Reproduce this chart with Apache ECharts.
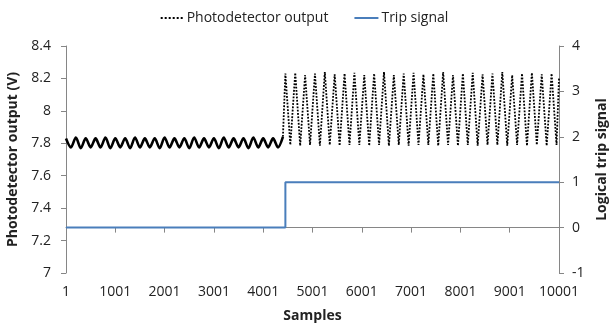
<!DOCTYPE html>
<html>
<head>
<meta charset="utf-8">
<script src="https://cdn.jsdelivr.net/npm/echarts@6/dist/echarts.min.js"></script>
<style>
  html, body { margin: 0; padding: 0; background: #fff; }
  #chart { width: 609px; height: 327px; }
</style>
</head>
<body>
<div id="chart"></div>
<script>
// turning points of the photodetector signal, one every 100 samples
const sampleStep = 100;

// small ripple before the trip (samples 1 .. 4401)
const smallWaveStart = 1;
const smallWave = [
  7.83, 7.775, 7.835, 7.77, 7.83, 7.775, 7.83, 7.775, 7.835, 7.77,
  7.83, 7.775, 7.83, 7.77, 7.835, 7.775, 7.83, 7.775, 7.83, 7.77,
  7.835, 7.775, 7.83, 7.775, 7.83, 7.77, 7.835, 7.775, 7.83, 7.775,
  7.83, 7.77, 7.835, 7.775, 7.83, 7.775, 7.83, 7.77, 7.835, 7.775,
  7.83, 7.775, 7.83, 7.775, 7.84
];

// large swing after the trip (peak at 4451, then trough/peak every 100)
const largeWaveStart = 4451;
const largePeaks = [
  8.23, 8.235, 8.22, 8.23, 8.24, 8.225, 8.23, 8.235, 8.22, 8.23,
  8.24, 8.22, 8.23, 8.235, 8.225, 8.23, 8.24, 8.22, 8.23, 8.235,
  8.225, 8.23, 8.24, 8.22, 8.23, 8.235, 8.225, 8.23
];
const largeTroughs = [
  7.79, 7.785, 7.79, 7.785, 7.79, 7.785, 7.79, 7.79, 7.785, 7.79,
  7.785, 7.79, 7.785, 7.79, 7.79, 7.785, 7.79, 7.785, 7.79, 7.785,
  7.79, 7.79, 7.785, 7.79, 7.785, 7.79, 7.785, 7.79
];
const lastSample = 10001;
const lastValue = 8.2;

// logical trip signal
const tripSamples = [1, 4451, 4451, 10001];
const tripValues = [0, 0, 1, 1];

const smallData = smallWave.map((v, i) => [smallWaveStart + i * sampleStep, v]);
const largeData = [smallData[smallData.length - 1]];
largePeaks.forEach((p, i) => {
  largeData.push([largeWaveStart + 2 * i * sampleStep, p]);
  largeData.push([largeWaveStart + (2 * i + 1) * sampleStep, largeTroughs[i]]);
});
largeData.push([lastSample, lastValue]);
const tripData = tripSamples.map((s, i) => [s, tripValues[i]]);

const FONT = "'Open Sans', sans-serif";
const axisGray = "#868686";
const textColor = "#222";
const tripBlue = "#4a7ebb";

// six little dots for the legend swatch
const dotsIcon = "path://M0,0h1v1h-1z M2,0h1v1h-1z M4,0h1v1h-1z M6,0h1v1h-1z M8,0h1v1h-1z M10,0h1v1h-1z";

const chart = echarts.init(document.getElementById("chart"), null, { renderer: "canvas" });

chart.setOption({
  animation: false,
  backgroundColor: "#fff",
  textStyle: { fontFamily: FONT },
  legend: {
    top: 6,
    left: "center",
    itemWidth: 24,
    itemHeight: 2,
    itemGap: 26,
    textStyle: { fontFamily: FONT, fontSize: 14, color: textColor, padding: [0, 0, 0, -2] },
    data: [
      { name: "Photodetector output", icon: dotsIcon, itemStyle: { color: "#000" } },
      { name: "Trip signal", icon: "rect", itemStyle: { color: tripBlue } }
    ]
  },
  grid: { left: 66, right: 50, top: 46, bottom: 54, outerBoundsMode: "none" },
  xAxis: {
    type: "value",
    min: 1,
    max: 10001,
    interval: 1000,
    name: "Samples",
    nameLocation: "middle",
    nameGap: 36,
    nameTextStyle: { fontFamily: FONT, fontSize: 14, fontWeight: "bold", color: textColor },
    axisLine: { lineStyle: { color: axisGray } },
    axisTick: { length: 5, lineStyle: { color: axisGray } },
    axisLabel: { fontFamily: FONT, fontSize: 14, color: textColor, margin: 12,
      formatter: (v) => String(v) },
    splitLine: { show: false }
  },
  yAxis: [
    {
      type: "value",
      min: 7,
      max: 8.4,
      interval: 0.2,
      name: "Photodetector output (V)",
      nameLocation: "middle",
      nameGap: 44,
      nameTextStyle: { fontFamily: FONT, fontSize: 14, fontWeight: "bold", color: textColor },
      axisLine: { show: true, lineStyle: { color: axisGray } },
      axisTick: { show: true, length: 5, lineStyle: { color: axisGray } },
      axisLabel: { fontFamily: FONT, fontSize: 14, color: textColor, margin: 15,
        formatter: (v) => String(+v.toFixed(1)) },
      splitLine: { show: false }
    },
    {
      type: "value",
      min: -1,
      max: 4,
      interval: 1,
      name: "Logical trip signal",
      nameLocation: "middle",
      nameGap: 34,
      nameTextStyle: { fontFamily: FONT, fontSize: 14, fontWeight: "bold", color: textColor },
      axisLine: { show: true, lineStyle: { color: axisGray } },
      axisTick: { show: true, length: 5, lineStyle: { color: axisGray } },
      axisLabel: { fontFamily: FONT, fontSize: 14, color: textColor, margin: 13 },
      splitLine: { show: false }
    }
  ],
  series: [
    {
      name: "Photodetector output",
      type: "line",
      data: largeData,
      symbol: "none",
      lineStyle: { color: "#000", width: 1.8, type: [1.8, 1.5] },
      itemStyle: { color: "#000" }
    },
    {
      name: "Photodetector output",
      type: "line",
      data: smallData,
      symbol: "none",
      smooth: 0.3,
      lineStyle: { color: "#000", width: 2.6 },
      itemStyle: { color: "#000" }
    },
    {
      name: "Trip signal",
      type: "line",
      yAxisIndex: 1,
      data: tripData,
      symbol: "none",
      lineStyle: { color: tripBlue, width: 2 },
      itemStyle: { color: tripBlue }
    }
  ]
});
</script>
</body>
</html>
